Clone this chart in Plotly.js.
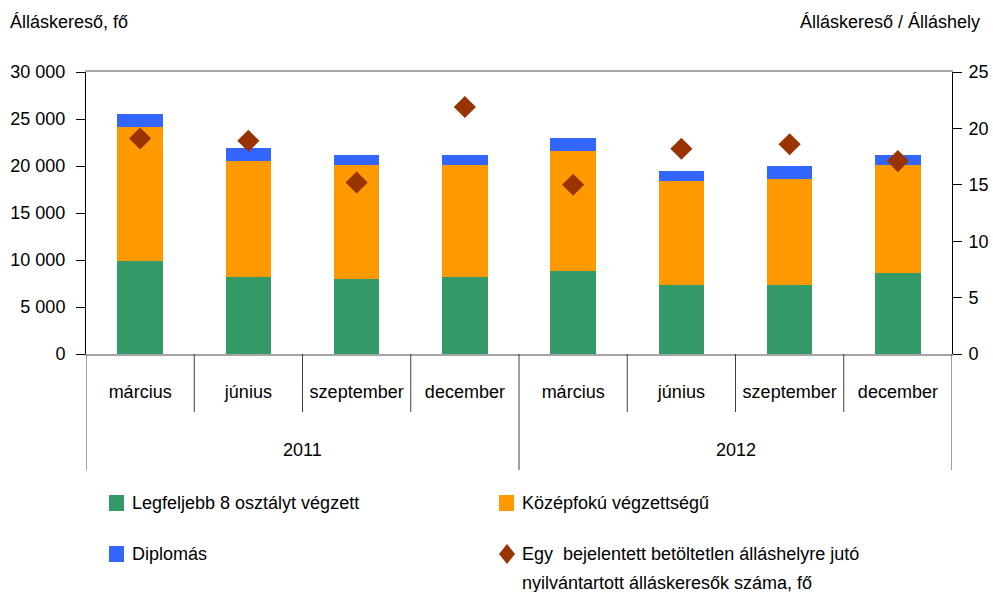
<!DOCTYPE html>
<html>
<head>
<meta charset="utf-8">
<script src="https://cdn.plot.ly/plotly-3.0.1.min.js"></script>
<style>html,body{margin:0;padding:0;background:#fff;} #chart{width:993px;height:592px;}</style>
</head>
<body>
<div id="chart"></div>
<script>
// ---- data ----
const years = ["2011", "2012"];
const months = ["március", "június", "szeptember", "december", "március", "június", "szeptember", "december"];
const low8 = [9890, 8190, 7980, 8190, 8830, 7340, 7340, 8620];        // Legfeljebb 8 osztályt végzett
const secondary = [14260, 12340, 12120, 11910, 12770, 11060, 11280, 11480]; // Középfokú végzettségű
const degree = [1380, 1370, 1070, 1070, 1380, 1070, 1380, 1070];      // Diplomás
const ratio = [19.1, 18.9, 15.2, 21.9, 15.0, 18.2, 18.6, 17.1];       // Egy álláshelyre jutó álláskereső
const seriesNames = ["Legfeljebb 8 osztályt végzett", "Középfokú végzettségű", "Diplomás",
  "Egy  bejelentett betöltetlen álláshelyre jutó nyilvántartott álláskeresők száma, fő"];
const legendLines = [
  ["Legfeljebb 8 osztályt végzett"],
  ["Középfokú végzettségű"],
  ["Diplomás"],
  ["Egy  bejelentett betöltetlen álláshelyre jutó", "nyilvántartott álláskeresők száma, fő"]
];
const leftTicks = [0, 5000, 10000, 15000, 20000, 25000, 30000];
const rightTicks = [0, 5, 10, 15, 20, 25];

// ---- derived ----
const xs = months.map((m, i) => i);
const colors = {green: "#339966", orange: "#FF9900", blue: "#3366FF", diamond: "#993300"};
const FONT = "Liberation Sans, Arial, sans-serif";

const traces = [
  {type: "bar", x: xs, y: low8, name: seriesNames[0], marker: {color: colors.green}, width: 0.42, hoverinfo: "y"},
  {type: "bar", x: xs, y: secondary, name: seriesNames[1], marker: {color: colors.orange}, width: 0.42, hoverinfo: "y"},
  {type: "bar", x: xs, y: degree, name: seriesNames[2], marker: {color: colors.blue}, width: 0.42, hoverinfo: "y"},
  {type: "scatter", mode: "markers", x: xs, y: ratio, name: seriesNames[3], yaxis: "y2",
   marker: {symbol: "diamond", size: 17, color: colors.diamond}, hoverinfo: "y"}
];

// plot area in pixels
const L = 86, R = 952, T = 72, B = 354, W = 993, H = 592;
const px2x = p => (p - L) / (R - L);
const py2y = p => (B - p) / (B - T);

const shapes = [];
// separators between months
for (let i = 0; i <= months.length; i++) {
  const isYearBoundary = (i % 4 === 0);
  shapes.push({type: "line", xref: "x", yref: "paper", x0: i - 0.5, x1: i - 0.5,
    y0: 0, y1: isYearBoundary ? py2y(470) : py2y(412), line: {color: "#404040", width: 1}});
}

const annotations = [];
// years
years.forEach((yr, k) => {
  annotations.push({xref: "x", yref: "paper", x: k * 4 + 1.5, y: py2y(450), text: yr, showarrow: false,
    xanchor: "center", yanchor: "middle", font: {family: FONT, size: 18, color: "#000"}});
});
// axis titles
annotations.push({xref: "paper", yref: "paper", x: px2x(8), y: py2y(22), text: "Álláskereső, fő", showarrow: false,
  xanchor: "left", yanchor: "middle", font: {family: FONT, size: 18, color: "#000"}});
annotations.push({xref: "paper", yref: "paper", x: px2x(982), y: py2y(22), text: "Álláskereső / Álláshely", showarrow: false,
  xanchor: "right", yanchor: "middle", font: {family: FONT, size: 18, color: "#000"}});

// manual legend
const legendItems = [
  {color: colors.green, x: 109, y: 503, kind: "square"},
  {color: colors.orange, x: 499, y: 503, kind: "square"},
  {color: colors.blue, x: 109, y: 554, kind: "square"},
  {color: colors.diamond, x: 499, y: 554, kind: "diamond"}
];
legendItems.forEach((it, k) => {
  if (it.kind === "square") {
    shapes.push({type: "rect", xref: "paper", yref: "paper", x0: px2x(it.x), x1: px2x(it.x + 15),
      y0: py2y(it.y - 8), y1: py2y(it.y + 8), fillcolor: it.color, line: {width: 0}});
  } else {
    const cx = it.x + 8, cy = it.y;
    const pts = [[cx, cy - 10], [cx + 8, cy], [cx, cy + 10], [cx - 8, cy]];
    const path = "M " + pts.map(p => px2x(p[0]) + "," + py2y(p[1])).join(" L ") + " Z";
    shapes.push({type: "path", xref: "paper", yref: "paper", path: path, fillcolor: it.color, line: {width: 0}});
  }
  legendLines[k].forEach((line, j) => {
    annotations.push({xref: "paper", yref: "paper", x: px2x(it.x + 21), y: py2y(it.y + j * 29), text: line,
      showarrow: false, xanchor: "left", yanchor: "middle", align: "left",
      font: {family: FONT, size: 18, color: "#000"}});
  });
});

const layout = {
  width: W, height: H,
  margin: {l: L, r: W - R, t: T, b: H - B, pad: 0},
  paper_bgcolor: "#fff", plot_bgcolor: "#fff",
  barmode: "stack",
  showlegend: false,
  separators: ", ",
  font: {family: FONT, size: 18, color: "#000"},
  xaxis: {
    range: [-0.5, months.length - 0.5], tickmode: "array", tickvals: xs, ticktext: months,
    ticks: "", showgrid: false, zeroline: false, showline: true, linecolor: "#a6a6a6", linewidth: 2,
    mirror: true, ticklabelstandoff: 20, tickfont: {family: FONT, size: 18, color: "#000"}, fixedrange: true
  },
  yaxis: {
    range: [0, 30000], tickmode: "array", tickvals: leftTicks, tickformat: ",d",
    ticks: "outside", ticklen: 9, tickcolor: "#000", showgrid: false, zeroline: false,
    showline: true, linecolor: "#000", linewidth: 1, ticklabelstandoff: 7,
    tickfont: {family: FONT, size: 18, color: "#000"}, fixedrange: true
  },
  yaxis2: {
    overlaying: "y", side: "right", range: [0, 25], tickmode: "array", tickvals: rightTicks,
    ticks: "outside", ticklen: 9, tickcolor: "#000", showgrid: false, zeroline: false,
    showline: true, linecolor: "#000", linewidth: 1, ticklabelstandoff: 3,
    tickfont: {family: FONT, size: 18, color: "#000"}, fixedrange: true
  },
  shapes: shapes,
  annotations: annotations
};

Plotly.newPlot("chart", traces, layout, {displayModeBar: false, staticPlot: true});
</script>
</body>
</html>
